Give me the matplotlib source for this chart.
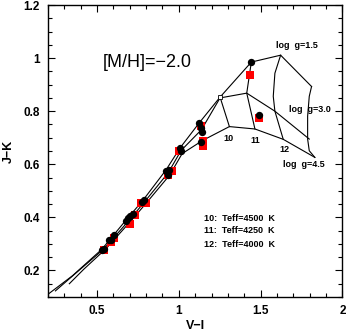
import matplotlib
matplotlib.use('Agg')
import matplotlib.pyplot as plt
from matplotlib.ticker import MultipleLocator

plt.rcParams['font.family'] = ['Liberation Sans', 'DejaVu Sans']

# model sequences (log g = 1.5, 3.0, 4.5)
vi_g15 = [0.20, 0.35, 0.53, 0.683, 0.778, 0.921, 1.008, 1.126, 1.252, 1.443, 1.622, 1.811]
jk_g15 = [0.110, 0.180, 0.280, 0.394, 0.462, 0.578, 0.662, 0.757, 0.853, 0.985, 1.011, 0.893]
vi_g30 = [0.246, 0.38, 0.54, 0.695, 0.79, 0.935, 1.014, 1.138, 1.252, 1.415, 1.587, 1.797]
jk_g30 = [0.123, 0.195, 0.280, 0.388, 0.458, 0.568, 0.652, 0.730, 0.850, 0.868, 0.800, 0.695]
vi_g45 = [0.331, 0.42, 0.555, 0.705, 0.80, 0.945, 1.02, 1.146, 1.309, 1.465, 1.638, 1.831]
jk_g45 = [0.150, 0.205, 0.282, 0.385, 0.453, 0.560, 0.640, 0.690, 0.742, 0.733, 0.694, 0.626]

# constant Teff lines
vi_t10 = [1.252, 1.309]
jk_t10 = [0.853, 0.742]
vi_t11 = [1.443, 1.415, 1.465]
jk_t11 = [0.985, 0.868, 0.733]
vi_t12 = [1.622, 1.587, 1.577, 1.587, 1.638]
jk_t12 = [1.011, 0.943, 0.856, 0.800, 0.694]
vi_t13 = [1.811, 1.797, 1.787, 1.787, 1.797, 1.831]
jk_t13 = [0.893, 0.856, 0.781, 0.695, 0.651, 0.626]

# black dots
vi_dot = [0.530, 0.545, 0.571, 0.585, 0.606, 0.679, 0.687, 0.703, 0.720, 0.774, 0.789,
          0.921, 0.933, 0.941, 1.008, 1.014, 1.126, 1.136, 1.140, 1.136, 1.443, 1.492]
jk_dot = [0.278, 0.282, 0.313, 0.316, 0.332, 0.386, 0.396, 0.406, 0.411, 0.458, 0.465,
          0.576, 0.560, 0.580, 0.660, 0.651, 0.757, 0.738, 0.722, 0.684, 0.985, 0.785]

# red squares
vi_sq = [0.541, 0.585, 0.602, 0.699, 0.734, 0.768, 0.799, 0.933, 0.957, 1.004,
         1.146, 1.146, 1.136, 1.435, 1.492]
jk_sq = [0.276, 0.309, 0.324, 0.376, 0.409, 0.455, 0.456, 0.561, 0.576, 0.651,
         0.688, 0.670, 0.744, 0.937, 0.775]

fig = plt.figure(figsize=(3.47, 3.32), dpi=100)
ax = fig.add_axes([0.138, 0.1054, 0.849, 0.8795])

for x, y in [(vi_g15, jk_g15), (vi_g30, jk_g30), (vi_g45, jk_g45),
             (vi_t10, jk_t10), (vi_t11, jk_t11), (vi_t12, jk_t12), (vi_t13, jk_t13)]:
    ax.plot(x, y, color='black', lw=0.8)

ax.plot(vi_g15[8], jk_g15[8], 's', ms=3, mfc='white', mec='black', mew=0.6)
ax.scatter(vi_sq, jk_sq, s=40, marker='s', c='red', linewidths=0, zorder=3)
ax.scatter(vi_dot, jk_dot, s=28, c='black', linewidths=0, zorder=4)

ax.text(0.805, 0.983, '[M/H]=\u22122.0', fontsize=13, ha='center', va='center')
ax.text(1.72, 1.048, 'log  g=1.5', fontsize=6.5, fontweight='bold', ha='center', va='center')
ax.text(1.80, 0.806, 'log  g=3.0', fontsize=6.5, fontweight='bold', ha='center', va='center')
ax.text(1.764, 0.598, 'log  g=4.5', fontsize=6.5, fontweight='bold', ha='center', va='center')
ax.text(1.305, 0.697, '10', fontsize=6.5, fontweight='bold', ha='center', va='center')
ax.text(1.465, 0.688, '11', fontsize=6.5, fontweight='bold', ha='center', va='center')
ax.text(1.644, 0.657, '12', fontsize=6.5, fontweight='bold', ha='center', va='center')
ax.text(1.154, 0.396, '10:  Teff=4500  K', fontsize=6.5, fontweight='bold', va='center')
ax.text(1.154, 0.350, '11:  Teff=4250  K', fontsize=6.5, fontweight='bold', va='center')
ax.text(1.154, 0.297, '12:  Teff=4000  K', fontsize=6.5, fontweight='bold', va='center')

ax.set_xlim(0.2, 2.0)
ax.set_ylim(0.1, 1.2)
ax.xaxis.set_major_locator(MultipleLocator(0.5))
ax.xaxis.set_minor_locator(MultipleLocator(0.1))
ax.yaxis.set_major_locator(MultipleLocator(0.2))
ax.yaxis.set_minor_locator(MultipleLocator(0.05))
ax.xaxis.set_major_formatter(plt.FuncFormatter(lambda v, p: ('%g' % v)))
ax.yaxis.set_major_formatter(plt.FuncFormatter(lambda v, p: ('%g' % v)))
ax.tick_params(which='both', direction='in', top=True, right=True, width=0.8)
ax.tick_params(which='major', length=5, labelsize=8.5, pad=6)
ax.tick_params(which='minor', length=3)
for t in ax.get_xticklabels() + ax.get_yticklabels():
    t.set_fontweight('bold')
for s in ax.spines.values():
    s.set_linewidth(1.0)

ax.set_xlabel('V\u2212I', fontsize=9, fontweight='bold', labelpad=2)
ax.set_ylabel('J\u2212K', fontsize=9, fontweight='bold', labelpad=6)

fig.savefig('out.png', dpi=100)
